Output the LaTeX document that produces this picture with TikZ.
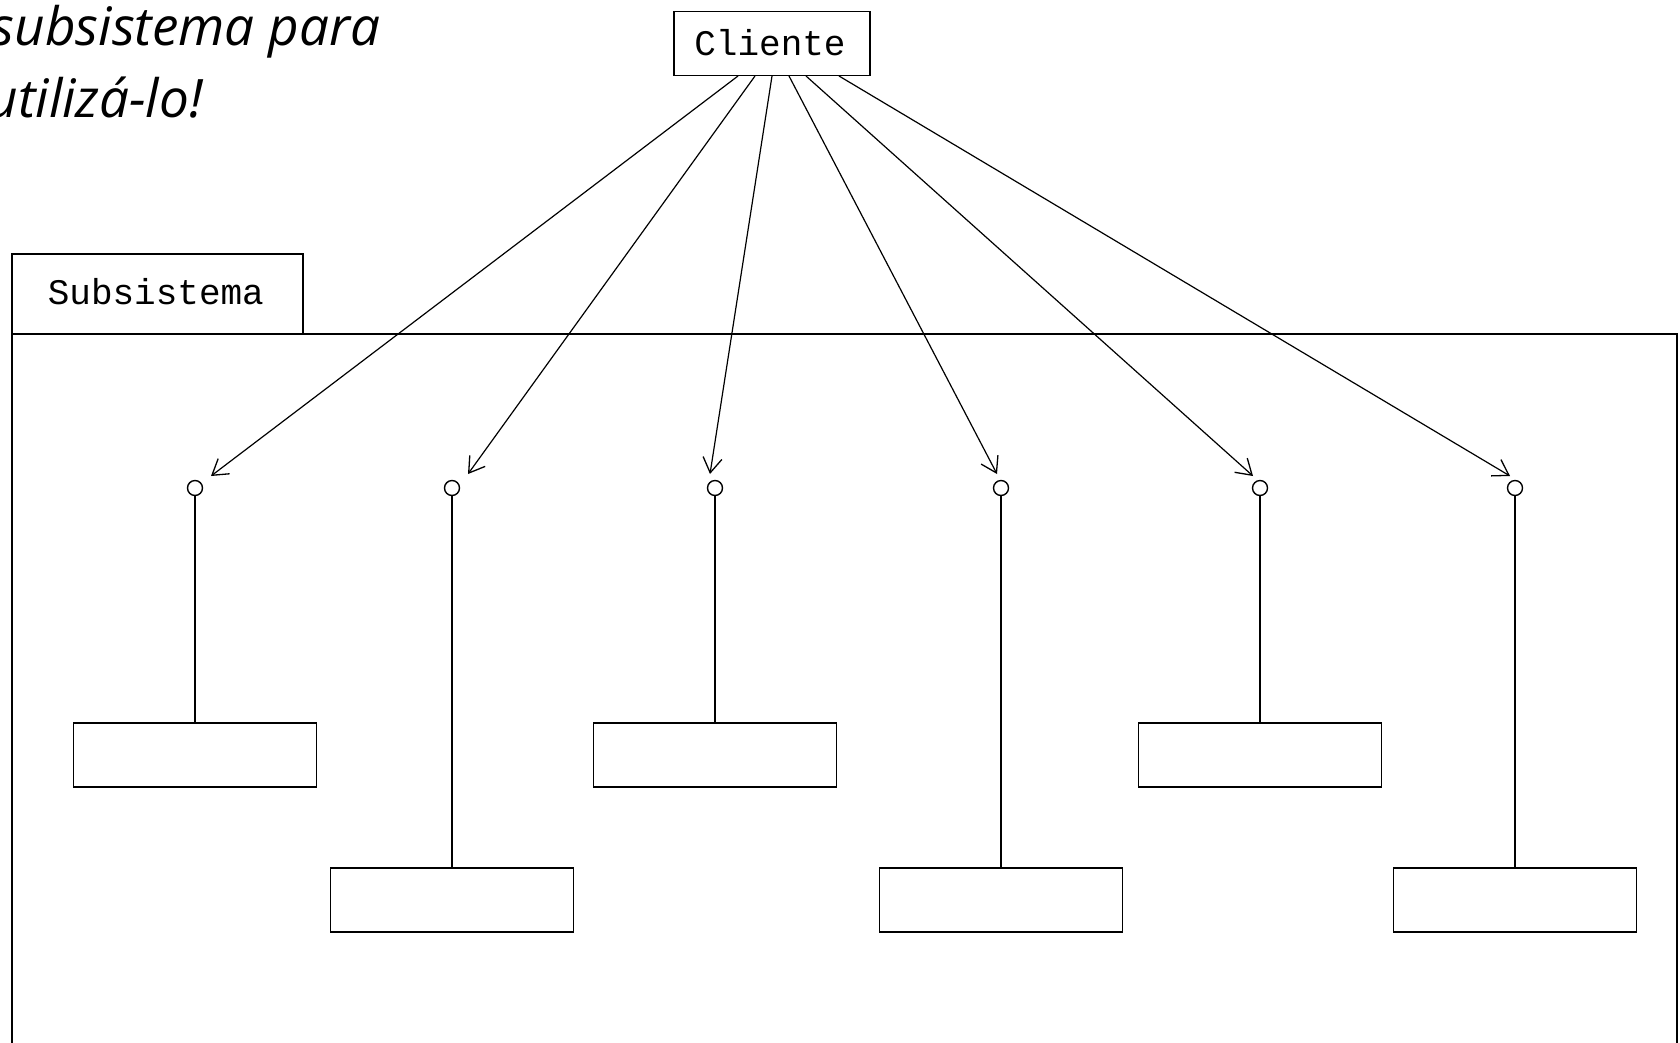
\documentclass[tikz,border=0pt]{standalone}
\usepackage{fontspec}
\setmonofont{Liberation Mono}
\newfontfamily\notefont{Open Sans}
\usetikzlibrary{arrows.meta,calc}
\begin{document}
\begin{tikzpicture}[x=1pt,y=-1pt,line width=1.6pt,
  thing/.style={draw,line width=1.6pt,minimum width=243pt,minimum height=64pt,inner sep=0pt},
  iface/.style={draw,circle,line width=1.4pt,minimum size=15pt,inner sep=0pt},
  dep/.style={line width=1.2pt,-{Straight Barb[length=15pt,width=19pt,line width=1.3pt]}},
  lbl/.style={font=\ttfamily\fontsize{36}{36}\selectfont,inner sep=0pt},
  note/.style={font=\notefont\itshape\fontsize{53}{53}\selectfont,inner sep=0pt,anchor=base west}]
\useasboundingbox (0,0) rectangle (1680,1042);
\clip (0,0) rectangle (1680,1042);
\fill[white] (0,0) rectangle (1680,1042);

% note text
\node[note] (n1) at (-9,45) {subsistema para};
\node[note] (n2) at (-13,117) {utilizá-lo!};

% client
\node[draw,line width=1.6pt,minimum width=196pt,minimum height=64pt,inner sep=0pt] (cli) at (772,43.5) {};
\node[lbl,anchor=base] (clit) at (770,55) {Cliente};

% package
\draw (12,334) -- (12,254) -- (303,254) -- (303,334);
\node[lbl,anchor=base west] (subt) at (47,304) {Subsistema};
\draw (12,1100) -- (12,334) -- (1677,334) -- (1677,1100);

% interface circles
\node[iface] (c1) at (195,488) {};
\node[iface] (c2) at (452,488) {};
\node[iface] (c3) at (715,488) {};
\node[iface] (c4) at (1001,488) {};
\node[iface] (c5) at (1260,488) {};
\node[iface] (c6) at (1515,488) {};

% components
\node[thing] (b1) at (195,755) {};
\node[thing] (b2) at (452,900) {};
\node[thing] (b3) at (715,755) {};
\node[thing] (b4) at (1001,900) {};
\node[thing] (b5) at (1260,755) {};
\node[thing] (b6) at (1515,900) {};

\foreach \i in {1,...,6} \draw (c\i.south) -- (b\i.north);

% arrow start and end points
\coordinate (s1) at (738,76);
\coordinate (s2) at (755,76);
\coordinate (s3) at (772,76);
\coordinate (s4) at (789,76);
\coordinate (s5) at (806,76);
\coordinate (s6) at (839,76);
\coordinate (e1) at (211,476);
\coordinate (e2) at (468,474);
\coordinate (e3) at (710,474);
\coordinate (e4) at (997,474);
\coordinate (e5) at (1253,476);
\coordinate (e6) at (1510,476);
\foreach \i in {1,...,6} \draw[dep] (s\i) -- (e\i);
\end{tikzpicture}
\end{document}
